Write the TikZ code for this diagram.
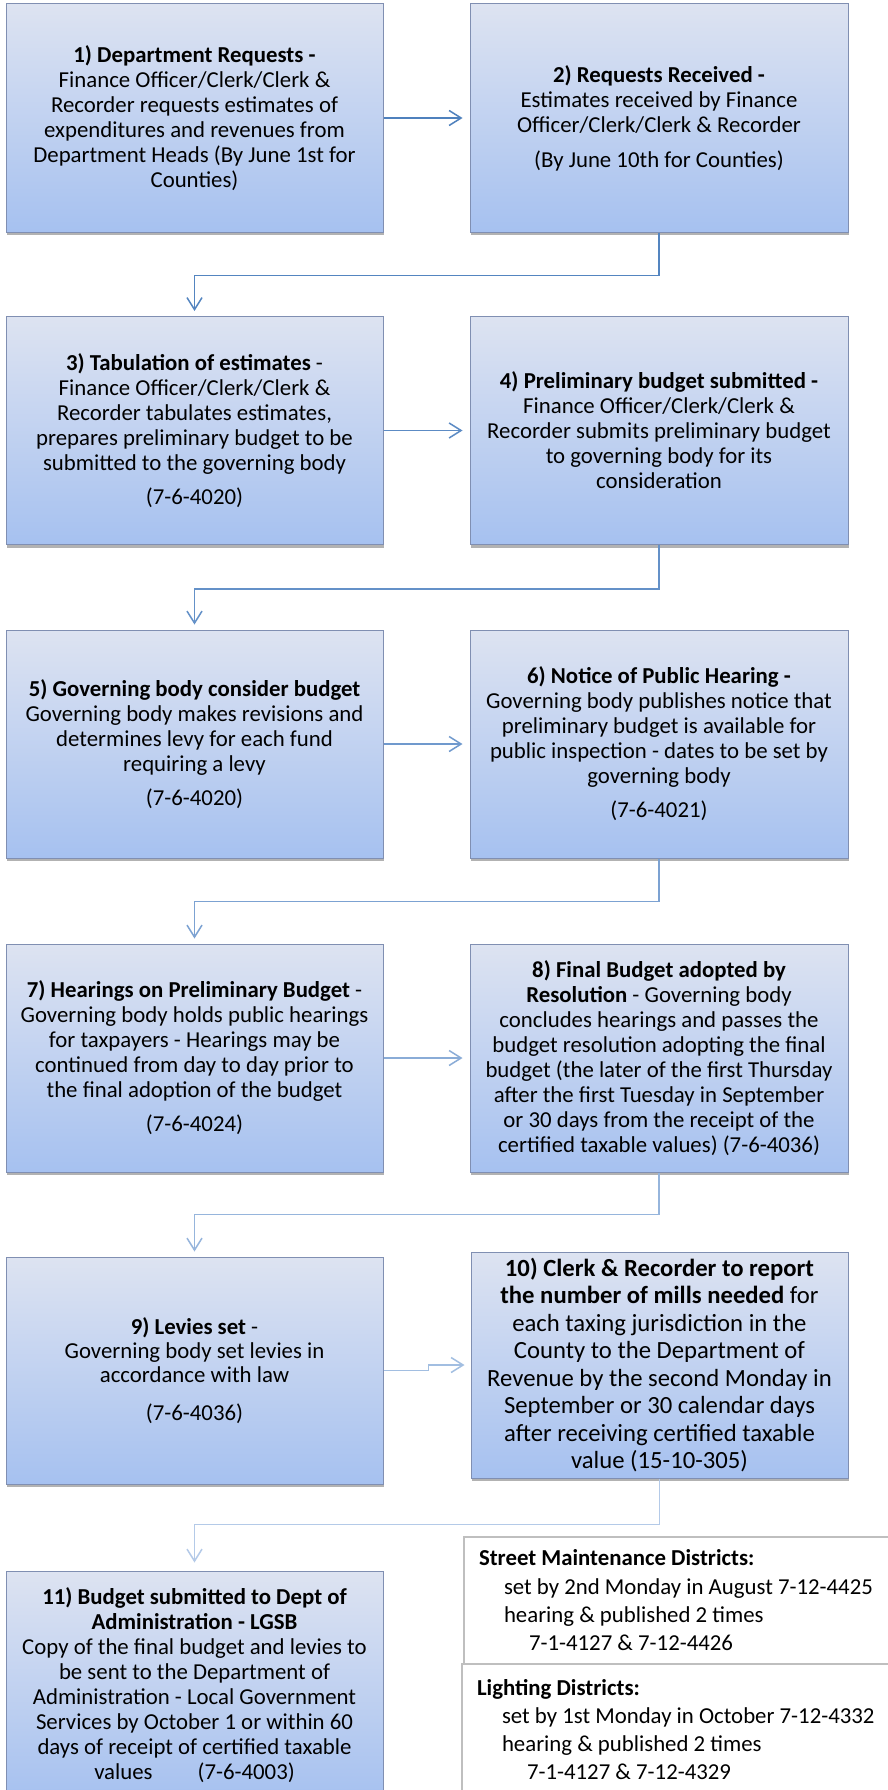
\documentclass[tikz,border=0pt]{standalone}
\usepackage{fontspec}
\setmainfont{Carlito}
\usetikzlibrary{arrows.meta,shadows}
\definecolor{boxtop}{RGB}{221,227,241}
\definecolor{boxbot}{RGB}{166,193,240}
\definecolor{boxline}{RGB}{128,143,178}
\definecolor{noteline}{RGB}{191,191,191}
\definecolor{cA}{RGB}{79,129,189}
\definecolor{cB}{RGB}{84,133,192}
\definecolor{cC}{RGB}{92,139,196}
\definecolor{cD}{RGB}{100,145,200}
\definecolor{cE}{RGB}{112,153,205}
\definecolor{cF}{RGB}{124,162,210}
\definecolor{cG}{RGB}{138,172,215}
\definecolor{cH}{RGB}{150,181,220}
\definecolor{cI}{RGB}{162,190,225}
\definecolor{cJ}{RGB}{180,202,232}
\tikzset{
  stepbox/.style={rectangle, draw=boxline, line width=1pt, top color=boxtop, bottom color=boxbot,
    minimum width=377pt, minimum height=228pt, align=center, inner sep=3pt, text=black,
    font=\fontsize{22.8}{25}\selectfont,
    drop shadow={shadow xshift=1pt, shadow yshift=-3pt, opacity=0.3, fill=black}},
  conn/.style={line width=1.5pt, -{Straight Barb[length=12pt,width=15pt]}},
  notebox/.style={rectangle, draw=noteline, line width=2pt, fill=white, anchor=north west,
    text width=520pt, align=flush left, inner xsep=15pt, inner ysep=0pt, text=black,
    font=\fontsize{22.8}{28.3}\selectfont}
}
\begin{document}
\begin{tikzpicture}[x=1pt,y=-1pt]
\useasboundingbox[fill=white] (0,0) rectangle (887,1790);

\node[stepbox] (b1) at (194.5,118) {\textbf{1) Department Requests -}\\ Finance Officer/Clerk/Clerk \&\\ Recorder requests estimates of\\ expenditures and revenues from\\ Department Heads (By June 1st for\\ Counties)};
\node[stepbox, minimum width=378pt] (b2) at (659,118) {\textbf{2) Requests Received -}\\ Estimates received by Finance\\ Officer/Clerk/Clerk \& Recorder\\[10pt] (By June 10th for Counties)};

\node[stepbox] (b3) at (194.5,430.5) {\textbf{3) Tabulation of estimates} -\\ Finance Officer/Clerk/Clerk \&\\ Recorder tabulates estimates,\\ prepares preliminary budget to be\\ submitted to the governing body\\[9pt] (7-6-4020)};
\node[stepbox, minimum width=378pt] (b4) at (659,430.5) {\textbf{4) Preliminary budget submitted -}\\ Finance Officer/Clerk/Clerk \&\\ Recorder submits preliminary budget\\ to governing body for its\\ consideration};

\node[stepbox] (b5) at (194.5,744) {\textbf{5) Governing body consider budget}\\ Governing body makes revisions and\\ determines levy for each fund\\ requiring a levy\\[9pt] (7-6-4020)};
\node[stepbox, minimum width=378pt] (b6) at (659,744) {\textbf{6) Notice of Public Hearing -}\\ Governing body publishes notice that\\ preliminary budget is available for\\ public inspection - dates to be set by\\ governing body\\[9pt] (7-6-4021)};

\node[stepbox] (b7) at (194.5,1058) {\textbf{7) Hearings on Preliminary Budget} -\\ Governing body holds public hearings\\ for taxpayers - Hearings may be\\ continued from day to day prior to\\ the final adoption of the budget\\[9pt] (7-6-4024)};
\node[stepbox, minimum width=378pt] (b8) at (659,1058) {\textbf{8) Final Budget adopted by}\\ \textbf{Resolution} - Governing body\\ concludes hearings and passes the\\ budget resolution adopting the final\\ budget (the later of the first Thursday\\ after the first Tuesday in September\\ or 30 days from the receipt of the\\ certified taxable values) (7-6-4036)};

\node[stepbox, minimum height=227pt, font=\fontsize{22.8}{24.2}\selectfont] (b9) at (194.5,1370.5) {\textbf{9) Levies set} -\\ Governing body set levies in\\ accordance with law\\[13pt] (7-6-4036)};
\node[stepbox, minimum width=377pt, minimum height=226pt, font=\fontsize{24.7}{27.5}\selectfont] (b10) at (659.5,1365) {\textbf{10) Clerk \& Recorder to report}\\ \textbf{the number of mills needed} for\\ each taxing jurisdiction in the\\ County to the Department of\\ Revenue by the second Monday in\\ September or 30 calendar days\\ after receiving certified taxable\\ value (15-10-305)};

\node[stepbox] (b11) at (194.5,1685) {\textbf{11) Budget submitted to Dept of}\\ \textbf{Administration - LGSB}\\ Copy of the final budget and levies to\\ be sent to the Department of\\ Administration - Local Government\\ Services by October 1 or within 60\\ days of receipt of certified taxable\\ values\hspace*{45pt}(7-6-4003)};

\node[notebox, minimum height=127pt] (smd) at (463,1536) {\textbf{Street Maintenance Districts:}\\ \hspace*{25pt}set by 2nd Monday in August 7-12-4425\\ \hspace*{25pt}hearing \& published 2 times\\ \hspace*{50pt}7-1-4127 \& 7-12-4426};
\node[notebox, minimum height=131pt] (light) at (461,1663) {\textbf{Lighting Districts:}\\ \hspace*{25pt}set by 1st Monday in October 7-12-4332\\ \hspace*{25pt}hearing \& published 2 times\\ \hspace*{50pt}7-1-4127 \& 7-12-4329};

\draw[conn, cA, shorten >=7pt] (b1.east) -- (b2.west);
\draw[conn, cB, shorten >=5pt] (b2.south) -- ++(0,43) -| (b3.north);
\draw[conn, cC, shorten >=7pt] (b3.east) -- (b4.west);
\draw[conn, cD, shorten >=5pt] (b4.south) -- ++(0,44) -| (b5.north);
\draw[conn, cE, shorten >=7pt] (b5.east) -- (b6.west);
\draw[conn, cF, shorten >=5pt] (b6.south) -- ++(0,43) -| (b7.north);
\draw[conn, cG, shorten >=7pt] (b7.east) -- (b8.west);
\draw[conn, cH, shorten >=5pt] (b8.south) -- ++(0,42) -| (b9.north);
\draw[conn, cI, shorten >=6pt] (b9.east) -- ++(45,0) |- (b10.west);
\draw[conn, cJ, shorten >=8pt] (b10.south) -- ++(0,46) -| (b11.north);
\end{tikzpicture}
\end{document}
